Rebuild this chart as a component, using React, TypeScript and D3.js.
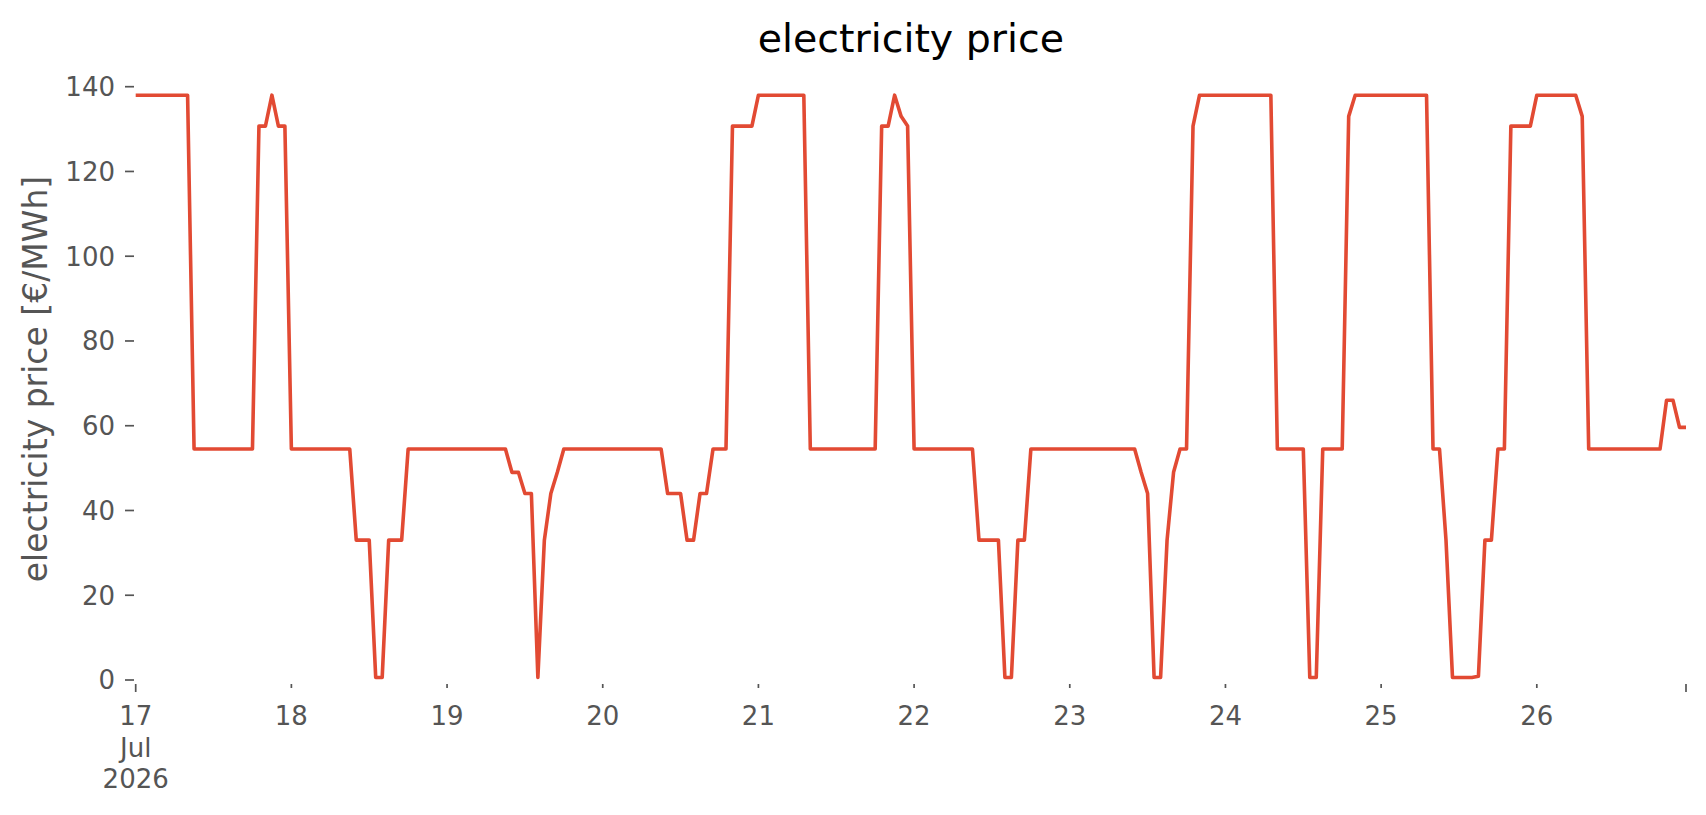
import React from 'react';
import * as d3 from 'd3';

// hourly prices, one array per day (€/MWh)
const jul17 = [138, 138, 138, 138, 138, 138, 138, 138, 138, 54.5, 54.5, 54.5, 54.5, 54.5, 54.5, 54.5, 54.5, 54.5, 54.5, 130.7, 130.7, 138, 130.7, 130.7];
const jul18 = [54.5, 54.5, 54.5, 54.5, 54.5, 54.5, 54.5, 54.5, 54.5, 54.5, 33, 33, 33, 0.6, 0.6, 33, 33, 33, 54.5, 54.5, 54.5, 54.5, 54.5, 54.5];
const jul19 = [54.5, 54.5, 54.5, 54.5, 54.5, 54.5, 54.5, 54.5, 54.5, 54.5, 49, 49, 44, 44, 0.6, 33, 44, 49, 54.5, 54.5, 54.5, 54.5, 54.5, 54.5];
const jul20 = [54.5, 54.5, 54.5, 54.5, 54.5, 54.5, 54.5, 54.5, 54.5, 54.5, 44, 44, 44, 33, 33, 44, 44, 54.5, 54.5, 54.5, 130.7, 130.7, 130.7, 130.7];
const jul21 = [138, 138, 138, 138, 138, 138, 138, 138, 54.5, 54.5, 54.5, 54.5, 54.5, 54.5, 54.5, 54.5, 54.5, 54.5, 54.5, 130.7, 130.7, 138, 133, 130.7];
const jul22 = [54.5, 54.5, 54.5, 54.5, 54.5, 54.5, 54.5, 54.5, 54.5, 54.5, 33, 33, 33, 33, 0.6, 0.6, 33, 33, 54.5, 54.5, 54.5, 54.5, 54.5, 54.5];
const jul23 = [54.5, 54.5, 54.5, 54.5, 54.5, 54.5, 54.5, 54.5, 54.5, 54.5, 54.5, 49, 44, 0.6, 0.6, 33, 49, 54.5, 54.5, 130.7, 138, 138, 138, 138];
const jul24 = [138, 138, 138, 138, 138, 138, 138, 138, 54.5, 54.5, 54.5, 54.5, 54.5, 0.6, 0.6, 54.5, 54.5, 54.5, 54.5, 133, 138, 138, 138, 138];
const jul25 = [138, 138, 138, 138, 138, 138, 138, 138, 54.5, 54.5, 33, 0.6, 0.6, 0.6, 0.6, 0.9, 33, 33, 54.5, 54.5, 130.7, 130.7, 130.7, 130.7];
const jul26 = [138, 138, 138, 138, 138, 138, 138, 133, 54.5, 54.5, 54.5, 54.5, 54.5, 54.5, 54.5, 54.5, 54.5, 54.5, 54.5, 54.5, 66, 66, 59.6, 59.6];

const prices = [...jul17, ...jul18, ...jul19, ...jul20, ...jul21, ...jul22, ...jul23, ...jul24, ...jul25, ...jul26];
const startTime = Date.UTC(2026, 6, 17, 0);
const yTicks = [0, 20, 40, 60, 80, 100, 120, 140];
const firstTickLabel = ['17', 'Jul', '2026'];

const W = 1706;
const H = 815;
const FONT = 'DejaVu Sans, Liberation Sans, sans-serif';
const GRAY = '#555555';

interface Point {
  t: Date;
  v: number;
}

export default function App() {
  const data: Point[] = prices.map((v, i) => ({ t: new Date(startTime + i * 3600e3), v }));
  const endTime = data[data.length - 1].t;

  const x = d3.scaleUtc().domain([new Date(startTime), endTime]).range([135.7, 1686]);
  const y = d3.scaleLinear().domain([0, 140]).range([680, 86.7]);

  const line = d3
    .line<Point>()
    .x((d) => x(d.t))
    .y((d) => y(d.v));

  // day ticks: first one is the major tick with month and year
  const days = d3.utcDay.range(new Date(startTime), endTime);

  return (
    <svg width={W} height={H} style={{ position: 'absolute', left: 0, top: 0, background: '#fff' }} fontFamily={FONT}>
      <text x={910.9} y={51.5} textAnchor="middle" fontSize={39.5} fill="#000">
        electricity price
      </text>

      <text
        transform={`translate(46.5, 379) rotate(-90)`}
        textAnchor="middle"
        fontSize={33}
        fill={GRAY}
      >
        electricity price [€/MWh]
      </text>

      {yTicks.map((t) => (
        <g key={t}>
          <line x1={125} x2={134} y1={y(t)} y2={y(t)} stroke={GRAY} strokeWidth={1.7} />
          <text x={115} y={y(t)} dy="0.36em" textAnchor="end" fontSize={26} fill={GRAY}>
            {t}
          </text>
        </g>
      ))}

      {days.map((d, i) => {
        const px = x(d);
        const major = i === 0;
        return (
          <g key={d.getTime()}>
            <line x1={px} x2={px} y1={684} y2={major ? 692 : 688} stroke={GRAY} strokeWidth={1.7} />
            {major ? (
              firstTickLabel.map((s, k) => (
                <text key={k} x={px} y={725 + k * 31.5} textAnchor="middle" fontSize={26} fill={GRAY}>
                  {s}
                </text>
              ))
            ) : (
              <text x={px} y={725} textAnchor="middle" fontSize={26} fill={GRAY}>
                {d3.utcFormat('%-d')(d)}
              </text>
            )}
          </g>
        );
      })}
      <line x1={x(endTime)} x2={x(endTime)} y1={684} y2={692} stroke={GRAY} strokeWidth={1.7} />

      <path d={line(data) ?? ''} fill="none" stroke="#E24A33" strokeWidth={3.6} strokeLinejoin="round" />
    </svg>
  );
}
